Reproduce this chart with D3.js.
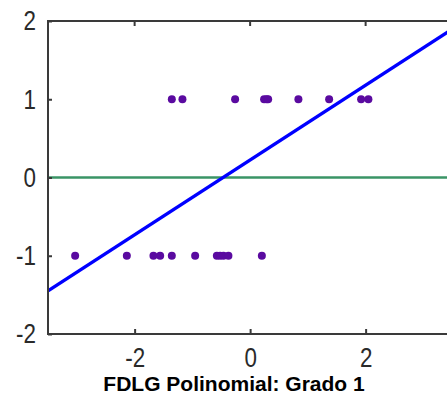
<!DOCTYPE html>
<html><head><meta charset="utf-8">
<script src="https://cdn.jsdelivr.net/npm/d3@7"></script>
<style>
html,body{margin:0;padding:0;background:#fff;overflow:hidden}
svg{display:block}
.tick text{font-family:"Liberation Sans",Arial,sans-serif}
</style></head>
<body>
<svg id="chart" width="447" height="395"></svg>
<script>
// Data
const xPos1 = [-1.356, -1.172, -0.260, 0.242, 0.285, 0.312, 0.836, 1.368, 1.922, 2.048]; // points at y = 1
const xNeg1 = [-3.03, -2.135, -1.674, -1.558, -1.356, -0.952, -0.576, -0.52, -0.462, -0.376, 0.203]; // points at y = -1
const classY = [1, -1];
const fitX = [-3.5, 3.5];
const fitY = [-1.449, 1.897];
const zeroLineY = [0, 0];
const xTicks = [-2, 0, 2];
const yTicks = [-2, -1, 0, 1, 2];
const titleText = "FDLG Polinomial: Grado 1";

(function () {
const svg = d3.select("#chart");
const pL = 48, pR = 452.25, pT = 21, pB = 334;
const x = d3.scaleLinear().domain([-3.5, 3.5]).range([pL, pR]);
const y = d3.scaleLinear().domain([-2, 2]).range([pB, pT]);

const axisColor = "#3a3a3a";
const fmt = d => d < 0 ? "-" + Math.abs(d) : String(d);
const sx = 0.8;

// top border
svg.append("line").attr("x1", pL).attr("x2", pR).attr("y1", pT).attr("y2", pT)
  .attr("stroke", axisColor).attr("stroke-width", 2);

// Points
const pts = xPos1.map(v => ({x: v, y: classY[0]})).concat(xNeg1.map(v => ({x: v, y: classY[1]})));
svg.append("g").selectAll("circle").data(pts).join("circle")
  .attr("cx", d => x(d.x)).attr("cy", d => y(d.y)).attr("r", 4)
  .attr("fill", "#5a0aa0");

// Zero line
svg.append("line").attr("x1", x(fitX[0])).attr("x2", x(fitX[1]))
  .attr("y1", y(zeroLineY[0])).attr("y2", y(zeroLineY[1]))
  .attr("stroke", "#3a9466").attr("stroke-width", 2.5);

// Fit line
svg.append("path").datum(fitX.map((v, i) => [v, fitY[i]]))
  .attr("d", d3.line().x(d => x(d[0])).y(d => y(d[1])))
  .attr("fill", "none").attr("stroke", "#0000ff").attr("stroke-width", 3.5);

// Bottom axis
const gx = svg.append("g").attr("transform", `translate(0,${pB})`)
  .call(d3.axisBottom(x).tickValues(xTicks).tickSize(-5).tickPadding(13).tickFormat(fmt));
gx.select(".domain").remove();
gx.selectAll(".tick line").attr("stroke", axisColor).attr("stroke-width", 2);
gx.selectAll(".tick text").attr("font-size", 28).attr("fill", "#2a2a2a").attr("dy", "0.71em")
  .attr("transform", `scale(${sx},1)`);
// top ticks
svg.append("g").selectAll("line").data(xTicks).join("line")
  .attr("x1", d => x(d)).attr("x2", d => x(d)).attr("y1", pT).attr("y2", pT + 5)
  .attr("stroke", axisColor).attr("stroke-width", 2);

svg.append("line").attr("x1", pL).attr("x2", pR).attr("y1", pB).attr("y2", pB)
  .attr("stroke", axisColor).attr("stroke-width", 2);

// Left axis
const gy = svg.append("g").attr("transform", `translate(${pL},0)`)
  .call(d3.axisLeft(y).tickValues(yTicks).tickSize(-4).tickPadding(11).tickFormat(fmt));
gy.select(".domain").remove();
gy.selectAll(".tick line").attr("stroke", axisColor).attr("stroke-width", 2);
gy.selectAll(".tick text").attr("font-size", 28).attr("fill", "#2a2a2a")
  .attr("x", -12 / sx).attr("transform", `scale(${sx},1)`);
svg.append("line").attr("x1", pL).attr("x2", pL).attr("y1", pT - 1).attr("y2", pB + 1)
  .attr("stroke", axisColor).attr("stroke-width", 2);

// Title
svg.append("text").attr("x", 234).attr("y", 391).attr("text-anchor", "middle")
  .attr("font-family", "'Liberation Sans', Arial, sans-serif").attr("font-weight", "bold")
  .attr("font-size", 21).attr("fill", "#000").text(titleText);
})();
</script>
</body></html>
